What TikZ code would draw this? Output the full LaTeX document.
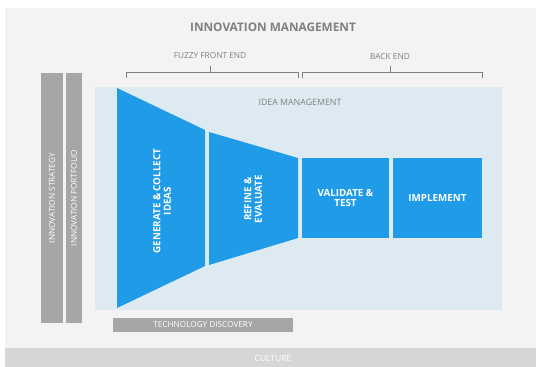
\documentclass[tikz,border=0pt]{standalone}
\usepackage{fontspec}
\setmainfont{Open Sans}
\usepackage{xcolor}
\usetikzlibrary{positioning}
\definecolor{funnelblue}{HTML}{1F9BE8}
\definecolor{bargrey}{HTML}{A6A6A6}
\definecolor{panelblue}{HTML}{DDEAF1}
\definecolor{backgrey}{HTML}{F3F3F3}
\definecolor{footgrey}{HTML}{D6D6D6}
\definecolor{textgrey}{HTML}{808080}
\tikzset{
    greybar/.style={fill=bargrey, text=white, inner sep=0pt,
        font=\fontsize{8.2}{9}\selectfont},
    stagetext/.style={text=white, align=center,
        font=\fontsize{9.8}{10.5}\selectfont\bfseries},
    stagebox/.style={stagetext, fill=funnelblue, inner sep=0pt},
    headtext/.style={text=textgrey, font=\fontsize{8.3}{9}\selectfont},
    bracket/.style={draw=textgrey, line width=0.9pt}
}

\begin{document}
\begin{tikzpicture}[x=1pt,y=-1pt]
            \useasboundingbox (0,0) rectangle (536,367);
            \fill[white] (0,0) rectangle (536,367);
            \fill[backgrey] (5,8) rectangle (536,348);
            \fill[footgrey] (5,348) rectangle (536,367);
            \fill[panelblue] (95,87) rectangle (502,310);

            \node[text=textgrey, font=\fontsize{11.8}{13}\selectfont\bfseries] (title) at (273,27) {INNOVATION MANAGEMENT};
            \node[headtext] (fuzzy) at (210,56) {FUZZY FRONT END};
            \node[headtext] (back) at (390,57) {BACK END};
            \node[headtext, font=\fontsize{8.8}{9.5}\selectfont] (idea) at (300,102) {IDEA MANAGEMENT};

            \coordinate (fl) at (126,78);
            \coordinate (fm) at (210,66);
            \coordinate (fr) at (298,78);
            \coordinate (bl) at (302,78);
            \coordinate (bm) at (390,66);
            \coordinate (br) at (482,78);

            \draw[bracket] (fl) |- (fr |- 0,72) -- (fr);
            \draw[bracket] (fm) -- (fm |- 0,72);
            \draw[bracket] (bl) |- (br |- 0,72) -- (br);
            \draw[bracket] (bm) -- (bm |- 0,72);

            \node[greybar, rotate=90, minimum width=250, minimum height=22] (strategy) at (52,198) {INNOVATION STRATEGY};
            \node[greybar, rotate=90, minimum width=250, minimum height=16] (portfolio) at (74,198) {INNOVATION PORTFOLIO};

            \fill[funnelblue] (117,88) -- (205,130) -- (205,266) -- (117,308) -- cycle;
            \fill[funnelblue] (209,132) -- (298,158) -- (298,238) -- (209,265) -- cycle;

            \node[stagetext, rotate=90] (generate) at (162,201) {GENERATE \& COLLECT\\IDEAS};
            \node[stagetext, rotate=90] (refine) at (253,199) {REFINE \&\\EVALUATE};
            \node[stagebox, minimum width=87, minimum height=80] (validate) at (345.5,198) {VALIDATE \&\\TEST};
            \node[stagebox, minimum width=89, minimum height=80] (implement) at (437.5,198) {IMPLEMENT};

            \node[greybar, minimum width=180, minimum height=14] (techno) at (203,325) {TECHNOLOGY DISCOVERY};
            \node[text=white, font=\fontsize{8.5}{9}\selectfont] (culture) at (273,358) {CULTURE};
        \end{tikzpicture}
\end{document}
